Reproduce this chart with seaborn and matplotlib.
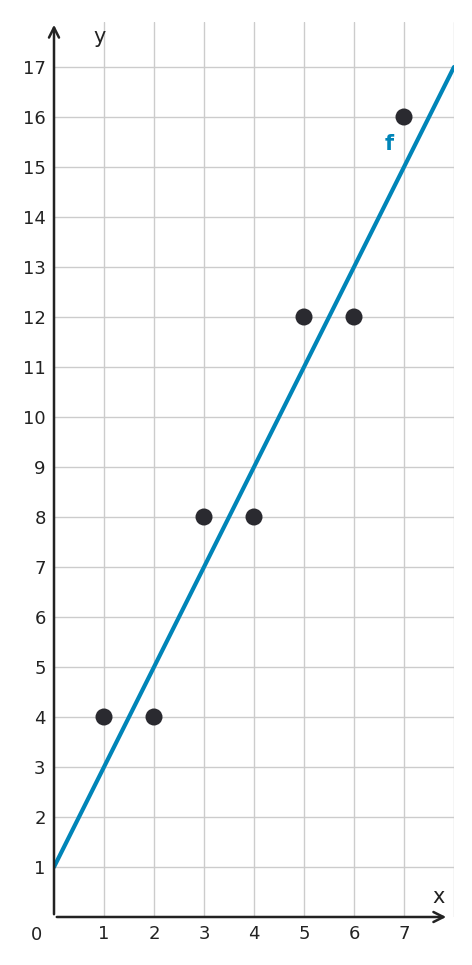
import numpy as np
import matplotlib.pyplot as plt
import seaborn as sns

x_pts = [1, 2, 3, 4, 5, 6, 7]
y_pts = [4, 4, 8, 8, 12, 12, 16]
slope, intercept = 2, 1
x_ticks = list(range(1, 8))
y_ticks = list(range(1, 18))

sns.set_style("white")
plt.rcParams['font.family'] = ['DejaVu Sans']

fig = plt.figure(figsize=(4.72, 9.65), dpi=100)
ax = fig.add_axes([54/472, 1 - 917/965, 400/472, 895/965])
ax.set_xlim(0, 8)
ax.set_ylim(0, 17.9)

for v in range(1, 9):
    ax.axvline(v, color="#cccccc", lw=1, zorder=0)
for v in y_ticks:
    ax.axhline(v, color="#cccccc", lw=1, zorder=0)

xl = np.array([0, 8])
sns.lineplot(x=xl, y=slope * xl + intercept, ax=ax, color="#0085b8", lw=3, zorder=2)
sns.scatterplot(x=x_pts, y=y_pts, ax=ax, color="#2a2a30", s=150, edgecolor="none", zorder=3)

for s in ax.spines.values():
    s.set_visible(False)
ax.annotate("", xy=(7.9, 0), xytext=(0, 0),
            arrowprops=dict(arrowstyle="->", color="#222222", lw=1.8, mutation_scale=18),
            annotation_clip=False)
ax.annotate("", xy=(0, 17.9), xytext=(0, 0),
            arrowprops=dict(arrowstyle="->", color="#222222", lw=1.8, mutation_scale=18),
            annotation_clip=False)

ax.set_xticks(x_ticks)
ax.set_yticks(y_ticks)
ax.tick_params(axis="both", length=5, width=1.2, color="#222222", labelsize=13,
               labelcolor="#222222", direction="inout")
ax.text(-0.35, -0.35, "0", fontsize=13, color="#222222", ha="center", va="center")
ax.text(0.92, 17.6, "y", fontsize=15, color="#222222", ha="center", va="center")
ax.text(7.7, 0.4, "x", fontsize=15, color="#222222", ha="center", va="center")
ax.text(6.7, 15.45, "f", fontsize=15, color="#0085b8", fontweight="bold", ha="center", va="center")
ax.set_xlabel("")
ax.set_ylabel("")

fig.savefig("out.png", dpi=100)
